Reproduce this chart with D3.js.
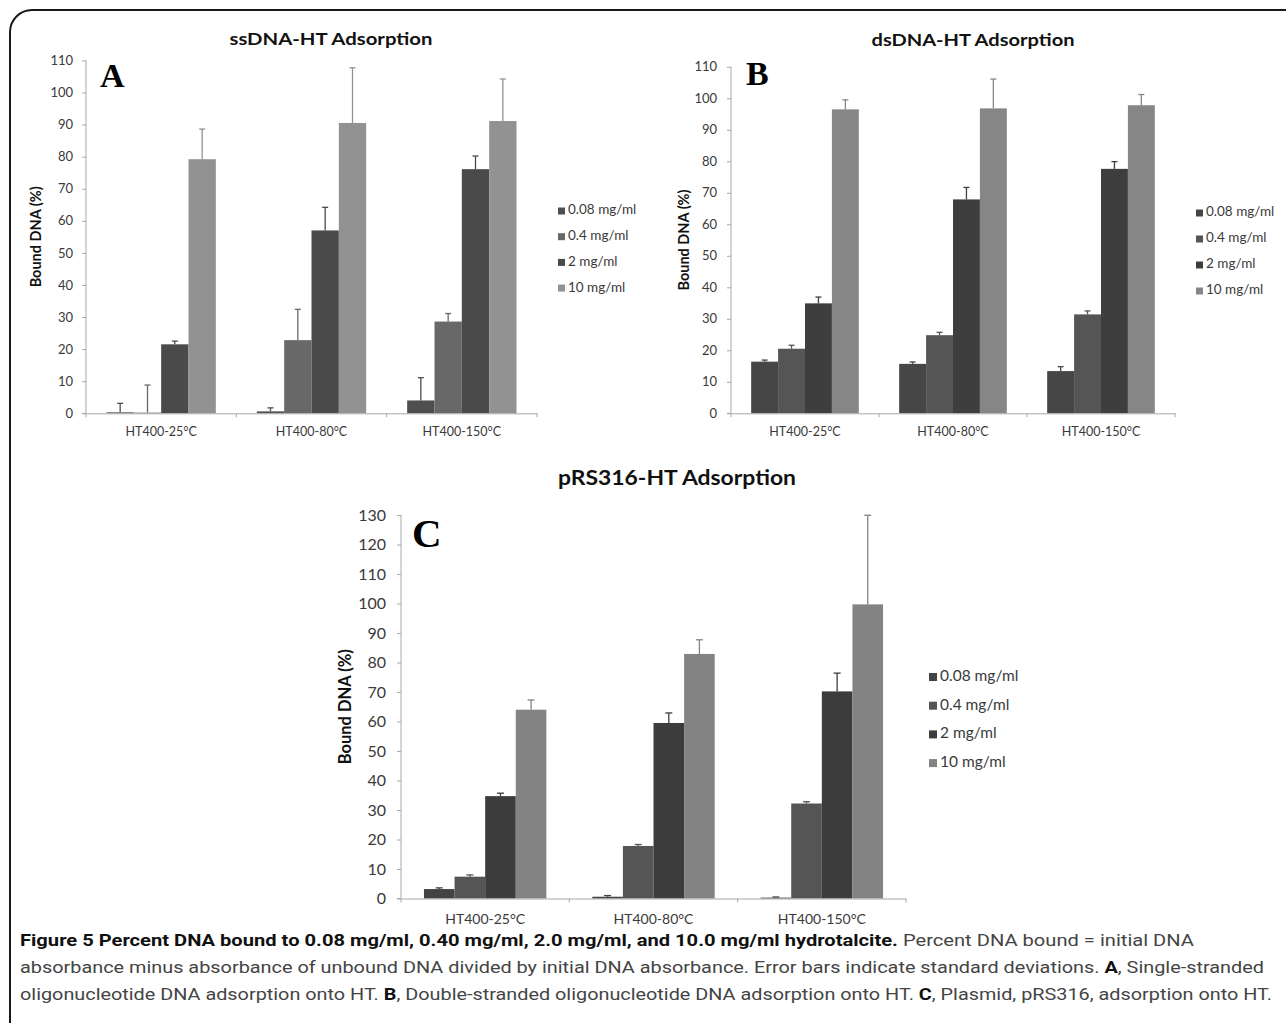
<!DOCTYPE html>
<html>
<head>
<meta charset="utf-8">
<script src="https://cdn.jsdelivr.net/npm/d3@7"></script>
<style>
html,body{margin:0;padding:0;background:#fff;}
svg{display:block;}
</style>
</head>
<body>
<svg id="fig" width="1286" height="1023"></svg>
<script>
// ---------------- DATA ----------------
const categories = ["HT400-25°C", "HT400-80°C", "HT400-150°C"];
const seriesNames = ["0.08 mg/ml", "0.4 mg/ml", "2 mg/ml", "10 mg/ml"];
const yTicksAB = [0,10,20,30,40,50,60,70,80,90,100,110];
const yTicksC = [0,10,20,30,40,50,60,70,80,90,100,110,120,130];

// Panel A: ssDNA-HT Adsorption
const aVal008 = [0.3, 0.6, 4.0];   const aErr008 = [2.8, 1.1, 7.1];
const aVal04  = [0.2, 22.8, 28.6]; const aErr04  = [8.6, 9.6, 2.5];
const aVal2   = [21.5, 57.0, 76.1];const aErr2   = [1.0, 7.2, 4.1];
const aVal10  = [79.2, 90.5, 91.1];const aErr10  = [9.4, 17.2, 13.1];

// Panel B: dsDNA-HT Adsorption
const bVal008 = [16.4, 15.7, 13.4];const bErr008 = [0.5, 0.6, 1.4];
const bVal04  = [20.5, 24.8, 31.4];const bErr04  = [1.1, 0.9, 1.1];
const bVal2   = [34.9, 67.9, 77.6];const bErr2   = [2.0, 3.8, 2.3];
const bVal10  = [96.5, 96.8, 97.8];const bErr10  = [3.0, 9.3, 3.4];

// Panel C: pRS316-HT Adsorption
const cVal008 = [3.2, 0.6, 0.3];   const cErr008 = [0.4, 0.4, 0.2];
const cVal04  = [7.4, 17.8, 32.2]; const cErr04  = [0.6, 0.5, 0.6];
const cVal2   = [34.7, 59.5, 70.2];const cErr2   = [1.0, 3.4, 6.2];
const cVal10  = [64.0, 82.9, 99.7];const cErr10  = [3.3, 4.8, 30.2];

// ---------------- STYLE / LAYOUT ----------------
const colorsA = ["#4e4e4e", "#686868", "#4a4a4a", "#929292"];
const colorsB = ["#464646", "#555555", "#3e3e3e", "#868686"];
const colorsC = ["#434343", "#555555", "#3c3c3c", "#838383"];
const chartFont = "Lato, 'Open Sans', sans-serif";

const svg = d3.select("#fig");

// frame
svg.append("path")
  .attr("d", "M10,1040 V32 A22,22 0 0 1 32,10 H1300")
  .attr("fill", "none").attr("stroke", "#1a1a1a").attr("stroke-width", 2);

function drawPanel(cfg) {
  const g = svg.append("g");
  const x = d3.scaleBand().domain(categories).range([cfg.x0, cfg.x1]).paddingInner(0).paddingOuter(0);
  const xs = d3.scaleBand().domain(seriesNames).range([0, x.bandwidth()]).paddingInner(0).paddingOuter(0.75);
  const y = d3.scaleLinear().domain([0, cfg.yMax]).range([cfg.y0, cfg.yTop]);

  // bars
  cfg.series.forEach((s, si) => {
    const name = seriesNames[si];
    const data = categories.map((c, i) => ({c, v: s.vals[i], e: s.errs[i]}));
    g.append("g").selectAll("rect").data(data).join("rect")
      .attr("x", d => x(d.c) + xs(name))
      .attr("width", xs.bandwidth())
      .attr("y", d => y(d.v))
      .attr("height", d => y(0) - y(d.v))
      .attr("fill", cfg.colors[si]);
    // error bars (upper only)
    const eg = g.append("g").attr("stroke", cfg.colors[si]).attr("stroke-width", 1.3);
    eg.selectAll("line.v").data(data).join("line").attr("class","v")
      .attr("x1", d => x(d.c) + xs(name) + xs.bandwidth()/2)
      .attr("x2", d => x(d.c) + xs(name) + xs.bandwidth()/2)
      .attr("y1", d => y(d.v))
      .attr("y2", d => y(d.v + d.e));
    eg.selectAll("line.cap").data(data).join("line").attr("class","cap")
      .attr("x1", d => x(d.c) + xs(name) + xs.bandwidth()/2 - cfg.cap)
      .attr("x2", d => x(d.c) + xs(name) + xs.bandwidth()/2 + cfg.cap)
      .attr("y1", d => y(d.v + d.e))
      .attr("y2", d => y(d.v + d.e));
  });

  // y axis
  const ya = g.append("g").attr("transform", `translate(${cfg.x0},0)`)
    .call(d3.axisLeft(y).tickValues(cfg.ticks).tickSize(4).tickPadding(cfg.tickPad).tickFormat(d3.format("d")));
  ya.select(".domain").attr("stroke", "#a8a8a8").attr("d", `M-4,${cfg.y0}H0V${cfg.yTop}`);
  ya.selectAll(".tick line").attr("stroke", "#a8a8a8");
  ya.selectAll("text").attr("font-family", chartFont).attr("font-size", cfg.tickFs).attr("fill", "#3a3a3a");

  // x axis
  const xa = g.append("g").attr("transform", `translate(0,${cfg.y0})`)
    .call(d3.axisBottom(x).tickSize(0).tickPadding(cfg.xPad));
  xa.select(".domain").attr("stroke", "#a8a8a8");
  xa.selectAll("text").attr("font-family", chartFont).attr("font-size", cfg.xFs).attr("fill", "#3a3a3a");
  const bounds = categories.map(c => x(c)).concat([x(categories[categories.length-1]) + x.bandwidth()]);
  xa.selectAll("line.bnd").data(bounds).join("line").attr("class","bnd")
    .attr("x1", d => d).attr("x2", d => d).attr("y1", 0).attr("y2", 4)
    .attr("stroke", "#a8a8a8");

  // y axis title
  g.append("text")
    .attr("transform", `translate(${cfg.yTitleX},${(cfg.y0 + cfg.yTop)/2}) rotate(-90)`)
    .attr("text-anchor", "middle").attr("dominant-baseline", "middle")
    .attr("font-family", chartFont).attr("font-weight", "bold")
    .attr("font-size", cfg.yTitleFs).attr("fill", "#111")
    .text("Bound DNA (%)");

  // title
  g.append("text")
    .attr("x", cfg.titleX).attr("y", cfg.titleY)
    .attr("text-anchor", "middle")
    .attr("font-family", chartFont).attr("font-weight", "bold")
    .attr("font-size", cfg.titleFs).attr("fill", "#111")
    .attr("textLength", cfg.titleW).attr("lengthAdjust", "spacingAndGlyphs")
    .text(cfg.title);

  // panel letter
  g.append("text")
    .attr("x", cfg.letterX).attr("y", cfg.letterY)
    .attr("font-family", "'Liberation Serif', 'Times New Roman', serif").attr("font-weight", "bold")
    .attr("font-size", cfg.letterFs).attr("fill", "#000")
    .text(cfg.letter);

  // legend
  const lg = g.append("g");
  seriesNames.forEach((n, i) => {
    const yy = cfg.legY + i * cfg.legDy;
    lg.append("rect").attr("x", cfg.legX).attr("y", yy - cfg.legSq/2).attr("width", cfg.legSq).attr("height", cfg.legSq)
      .attr("fill", cfg.colors[i]);
    lg.append("text").attr("x", cfg.legX + cfg.legSq + 3).attr("y", yy)
      .attr("dominant-baseline", "middle")
      .attr("font-family", chartFont).attr("font-size", cfg.legFs).attr("fill", "#3a3a3a")
      .text(n);
  });
}

drawPanel({
  x0: 86, x1: 537, y0: 413.3, yTop: 60.4, yMax: 110, ticks: yTicksAB,
  series: [{vals:aVal008, errs:aErr008},{vals:aVal04, errs:aErr04},{vals:aVal2, errs:aErr2},{vals:aVal10, errs:aErr10}],
  colors: colorsA, cap: 3, tickPad: 9, tickFs: 13, xPad: 14, xFs: 12.5,
  yTitleX: 37, yTitleFs: 14.5,
  title: "ssDNA-HT Adsorption", titleX: 331, titleY: 45, titleFs: 17, titleW: 203,
  letter: "A", letterX: 100, letterY: 87, letterFs: 34,
  legX: 558, legY: 211, legDy: 25.7, legSq: 7, legFs: 13.5
});

drawPanel({
  x0: 731, x1: 1175, y0: 413.3, yTop: 66.8, yMax: 110, ticks: yTicksAB,
  series: [{vals:bVal008, errs:bErr008},{vals:bVal04, errs:bErr04},{vals:bVal2, errs:bErr2},{vals:bVal10, errs:bErr10}],
  colors: colorsB, cap: 3, tickPad: 10, tickFs: 13, xPad: 14, xFs: 12.5,
  yTitleX: 685, yTitleFs: 14.5,
  title: "dsDNA-HT Adsorption", titleX: 973, titleY: 46, titleFs: 17, titleW: 203,
  letter: "B", letterX: 746, letterY: 85, letterFs: 34,
  legX: 1196, legY: 213, legDy: 26, legSq: 7, legFs: 13.5
});

drawPanel({
  x0: 401, x1: 906, y0: 898.5, yTop: 515, yMax: 130, ticks: yTicksC,
  series: [{vals:cVal008, errs:cVal008.map((_, i) => cErr008[i])},{vals:cVal04, errs:cErr04},{vals:cVal2, errs:cErr2},{vals:cVal10, errs:cErr10}],
  colors: colorsC, cap: 3.5, tickPad: 11, tickFs: 16, xPad: 16, xFs: 14,
  yTitleX: 347, yTitleFs: 16.5,
  title: "pRS316-HT Adsorption", titleX: 677, titleY: 485, titleFs: 20, titleW: 238,
  letter: "C", letterX: 412, letterY: 547, letterFs: 41,
  legX: 929, legY: 677, legDy: 28.7, legSq: 8, legFs: 15.5
});

// ---------------- CAPTION ----------------
const capFont = "'Liberation Sans Narrow', 'Roboto', 'Open Sans', sans-serif";
const capLines = [
  {y: 946, w: 1174, parts: [
    {t: "Figure 5 Percent DNA bound to 0.08 mg/ml, 0.40 mg/ml, 2.0 mg/ml, and 10.0 mg/ml hydrotalcite.", b: true},
    {t: " Percent DNA bound = initial DNA", b: false}]},
  {y: 973, w: 1244, parts: [
    {t: "absorbance minus absorbance of unbound DNA divided by initial DNA absorbance. Error bars indicate standard deviations. ", b: false},
    {t: "A", b: true}, {t: ", Single-stranded", b: false}]},
  {y: 1000, w: 1252, parts: [
    {t: "oligonucleotide DNA adsorption onto HT. ", b: false}, {t: "B", b: true},
    {t: ", Double-stranded oligonucleotide DNA adsorption onto HT. ", b: false}, {t: "C", b: true},
    {t: ", Plasmid, pRS316, adsorption onto HT.", b: false}]}
];
capLines.forEach(L => {
  const t = svg.append("text").attr("x", 20).attr("y", L.y)
    .attr("font-family", capFont).attr("font-size", 17)
    .attr("textLength", L.w).attr("lengthAdjust", "spacingAndGlyphs")
    .attr("xml:space", "preserve").style("white-space", "pre");
  L.parts.forEach(p => {
    t.append("tspan").attr("font-weight", p.b ? "bold" : "normal")
      .attr("fill", p.b ? "#111" : "#444").text(p.t);
  });
});
</script>
</body>
</html>
